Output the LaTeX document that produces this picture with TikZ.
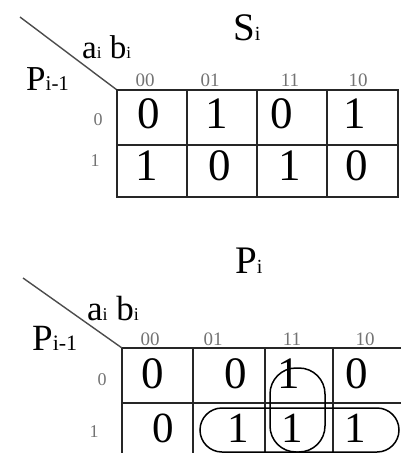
\documentclass[tikz,border=0pt]{standalone}
\usepackage{fontspec}
\setmainfont{Liberation Serif}
\newcommand\smallsub[2]{{\fontsize{#1}{#1}\selectfont #2}}
\begin{document}
\begin{tikzpicture}[x=1pt,y=-1pt,
  grid/.style={line width=2.2pt,black!85},
  diag/.style={line width=1.4pt,black!70},
  digit/.style={font=\fontsize{45}{47}\selectfont,inner sep=0pt},
  collab/.style={font=\fontsize{19}{20}\selectfont,text=black!55,inner sep=0pt,anchor=base},
  rowlab/.style={font=\fontsize{18}{20}\selectfont,text=black!55,inner sep=0pt},
  title/.style={font=\fontsize{39}{41}\selectfont,inner sep=0pt,anchor=base west},
  varlab/.style={font=\fontsize{33}{35}\selectfont,inner sep=0pt,anchor=base west},
  loop/.style={line width=1.5pt,black}]
\useasboundingbox (0,0) rectangle (401,453);
% ---------- top map S_i ----------
\node[title] (st) at (233,40) {S\smallsub{20}{i}};
\node[varlab] (sab) at (82,58) {a\smallsub{17}{i} b\smallsub{17}{i}};
\node[varlab,font=\fontsize{35}{37}\selectfont] (sp) at (26,90) {P\smallsub{21}{i-1}};
\coordinate (sd1) at (20,17);
\coordinate (sd2) at (117,90);
\draw[diag] (sd1) -- (sd2);
\draw[grid] (117,90) rectangle (398,197);
\draw[grid] (117,145) -- (398,145);
\foreach \x in {187,257,327} \draw[grid] (\x,90) -- (\x,197);
\foreach \lab/\x in {00/145,01/210,11/290,10/358}
  \node[collab] (sc\lab) at (\x,86) {\lab};
\node[rowlab] (sr0) at (98,120) {0};
\node[rowlab] (sr1) at (95,161) {1};
\foreach \v/\x [count=\i] in {0/149,1/217,0/282,1/355}
  \node[digit] (sa\i) at (\x,114) {\v};
\foreach \v/\x [count=\i] in {1/147,0/220,1/290,0/357}
  \node[digit] (sb\i) at (\x,166) {\v};
% ---------- bottom map P_i ----------
\node[title] (pt) at (235,273) {P\smallsub{20}{i}};
\node[varlab,font=\fontsize{35}{37}\selectfont] (pab) at (87,320) {a\smallsub{18}{i} b\smallsub{18}{i}};
\node[varlab,font=\fontsize{37}{39}\selectfont] (pp) at (32,350) {P\smallsub{22}{i-1}};
\coordinate (pd1) at (23,278);
\coordinate (pd2) at (122,348);
\draw[diag] (pd1) -- (pd2);
\draw[grid] (122,348) -- (401,348);
\draw[grid] (122,403) -- (401,403);
\foreach \x in {122,193,265,333} \draw[grid] (\x,348) -- (\x,453);
\foreach \lab/\x in {00/150,01/213,11/292,10/365}
  \node[collab] (pc\lab) at (\x,345) {\lab};
\node[rowlab] (pr0) at (102,380) {0};
\node[rowlab] (pr1) at (94,432) {1};
\foreach \v/\x [count=\i] in {0/153,0/236,1/289,0/357}
  \node[digit] (pa\i) at (\x,374) {\v};
\foreach \v/\x [count=\i] in {0/163,1/238,1/292,1/355}
  \node[digit,font=\fontsize{43}{45}\selectfont] (pb\i) at (\x,428) {\v};
\draw[loop,rounded corners=22pt] (200,408) rectangle (399,452);
\draw[loop,rounded corners=26pt] (270,368) rectangle (325,452);
\end{tikzpicture}
\end{document}
